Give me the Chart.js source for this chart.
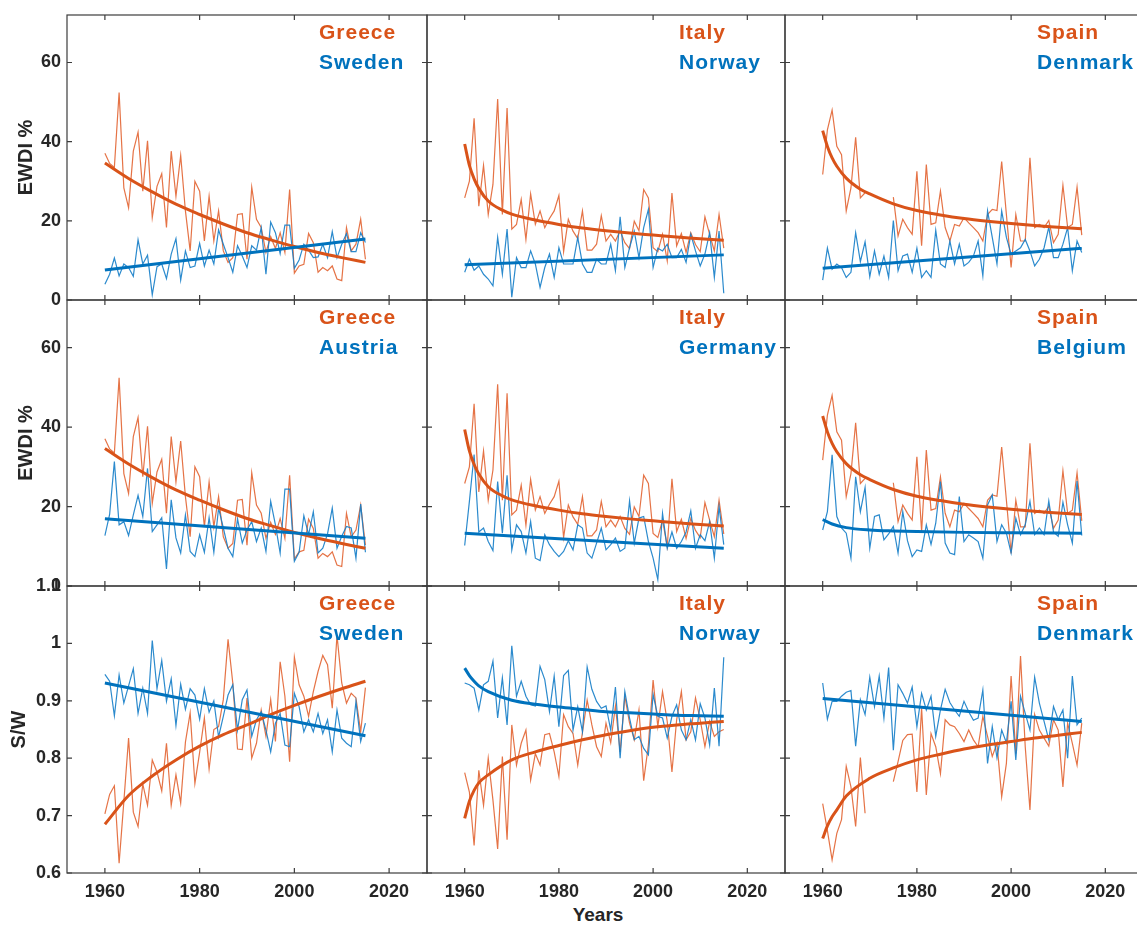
<!DOCTYPE html>
<html>
<head>
<meta charset="utf-8">
<title>EWDI and S/W trends</title>
<script src="https://cdn.jsdelivr.net/npm/chart.js@4.4.1/dist/chart.umd.min.js"></script>
<style>
  html, body { margin: 0; padding: 0; background: #fff; }
  body { width: 1137px; height: 925px; overflow: hidden; position: relative;
         font-family: "Liberation Sans", Arial, sans-serif; }
  .panel { position: absolute; }
  .tag { position: absolute; font-weight: bold; font-size: 21px; letter-spacing: 1px;
         line-height: 24px; white-space: nowrap; }
  .xlabel { position: absolute; font-weight: bold; font-size: 19px; line-height: 24px;
            color: #262626; transform: translateX(-50%); }
</style>
</head>
<body>
<div class="xlabel" style="left:598px;top:903px">Years</div>
<script>
// ---- axis ticks ----
const YEAR_TICKS = [1960, 1980, 2000, 2020];
const EWDI_TICKS = [0, 20, 40, 60];
const SW_TICKS = [0.6, 0.7, 0.8, 0.9, 1, 1.1];

// yearly series run 1960..2015
const YEARS = Array.from({ length: 56 }, (_, i) => 1960 + i);

// ---- EWDI % (yearly) ----
const GREECE_EWDI = [37.1, 34.5, 33.5, 52.4, 28.3, 23.3, 37.6, 42.4, 27.5, 40.2,
  20.8, 28.7, 31.9, 18.3, 37.6, 26.2, 36.5, 22.5, 12.4, 30.0,
  27.5, 14.9, 26.2, 14.9, 22.5, 12.4, 9.5, 10.7, 21.6, 21.8,
  10.3, 28.5, 20.4, 18.3, 12.0, 16.0, 13.0, 17.0, 12.0, 27.9,
  6.8, 8.6, 9.0, 16.8, 14.5, 7.0, 8.2, 7.4, 8.6, 5.3,
  4.9, 18.3, 12.4, 14.1, 20.4, 10.3];
const SWEDEN_EWDI = [4.0, 6.5, 10.6, 6.1, 9.1, 8.2, 6.0, 15.2, 9.1, 11.3,
  1.3, 8.4, 9.1, 5.4, 11.6, 15.5, 5.0, 12.4, 8.2, 8.6,
  14.3, 8.6, 12.6, 9.1, 17.7, 14.1, 10.7, 7.0, 13.7, 11.1,
  8.2, 13.7, 12.6, 18.3, 6.5, 19.7, 17.0, 11.7, 18.9, 18.9,
  8.0, 10.1, 14.1, 12.6, 10.7, 10.9, 14.1, 10.7, 17.3, 10.7,
  14.1, 16.8, 12.2, 12.2, 17.0, 14.5];
const ITALY_EWDI = [25.8, 30.0, 45.9, 23.7, 34.0, 21.6, 29.2, 50.8, 21.6, 48.5,
  17.9, 19.1, 25.4, 15.3, 26.8, 19.1, 22.5, 18.3, 20.6, 22.5,
  26.4, 12.2, 20.4, 17.4, 15.5, 22.5, 12.6, 12.6, 14.1, 21.3,
  14.9, 16.6, 14.9, 17.5, 14.5, 13.0, 19.9, 17.5, 27.9, 25.8,
  13.2, 12.2, 16.6, 9.9, 27.0, 13.7, 16.8, 12.0, 17.0, 14.0,
  12.2, 21.0, 16.6, 12.4, 21.6, 13.1];
const NORWAY_EWDI = [7.0, 10.3, 7.5, 8.6, 6.5, 5.3, 3.6, 15.8, 6.5, 17.9,
  0.7, 10.7, 8.2, 8.2, 12.4, 9.1, 3.2, 8.2, 11.6, 5.7,
  13.2, 9.1, 9.1, 9.1, 15.8, 9.1, 7.0, 7.0, 10.3, 9.1,
  9.1, 14.1, 7.4, 21.0, 8.2, 13.2, 17.4, 10.7, 18.3, 22.9,
  8.2, 13.1, 12.4, 14.1, 10.7, 10.7, 12.8, 9.5, 16.6, 12.4,
  8.6, 11.6, 17.0, 5.7, 17.4, 1.7];
const SPAIN_EWDI = [31.7, 43.0, 48.0, 38.8, 36.7, 22.5, 28.3, 41.1, 25.8, 27.1,
  null, null, null, null, null, 26.0, 16.2, 20.4, 18.3, 16.6,
  32.5, 13.7, 34.2, 19.1, 19.5, 27.5, 18.3, 14.9, 19.1, 18.7,
  20.8, 19.5, 18.3, 17.0, 14.9, 21.6, 22.9, 22.6, 35.0, 21.6,
  8.2, 21.6, 14.9, 14.9, 35.9, 18.3, 19.1, 18.3, 20.1, 14.5,
  16.6, 29.0, 18.3, 19.1, 28.5, 16.4];
const DENMARK_EWDI = [5.0, 13.1, 7.8, 9.1, 8.2, 5.7, 7.0, 17.0, 9.7, 14.7,
  5.9, 12.4, 6.5, 11.1, 5.7, 20.1, 7.4, 11.1, 11.6, 7.0,
  13.1, 5.7, 7.4, 5.7, 17.6, 9.1, 8.2, 14.9, 9.1, 14.1,
  8.6, 9.5, 11.1, 14.9, 6.1, 22.5, 15.8, 9.1, 22.5, 15.8,
  11.6, 12.4, 13.2, 15.3, 12.4, 8.6, 10.3, 13.2, 18.4, 10.7,
  10.7, 14.1, 18.3, 7.4, 14.9, 12.0];
const AUSTRIA_EWDI = [12.7, 18.0, 31.3, 15.4, 16.2, 12.7, 17.9, 22.8, 17.5, 29.6,
  13.7, 15.4, 17.2, 4.3, 21.7, 12.1, 8.3, 17.9, 8.7, 7.4,
  12.9, 8.5, 17.2, 8.5, 19.6, 14.6, 9.5, 7.4, 16.9, 10.8,
  14.1, 16.2, 11.2, 14.6, 8.7, 21.3, 15.4, 8.3, 24.4, 24.4,
  6.2, 8.5, 17.7, 12.9, 18.7, 8.3, 9.5, 13.1, 19.6, 9.5,
  12.5, 15.0, 14.6, 7.0, 20.6, 8.5];
const GERMANY_EWDI = [10.2, 21.3, 33.1, 13.6, 14.6, 11.2, 8.9, 26.3, 13.3, 27.9,
  9.1, 15.4, 13.7, 8.3, 16.2, 7.0, 6.4, 12.9, 10.4, 8.7,
  7.4, 8.7, 11.4, 9.1, 15.4, 14.6, 8.3, 7.0, 10.8, 14.6,
  9.1, 10.4, 12.1, 8.7, 9.5, 21.4, 10.8, 17.1, 17.5, 11.2,
  7.0, 1.6, 18.3, 9.5, 13.6, 9.5, 11.2, 13.6, 18.9, 9.5,
  12.9, 11.4, 16.2, 7.0, 20.0, 10.4];
const BELGIUM_EWDI = [14.1, 18.7, 33.0, 17.5, 14.6, 13.3, 7.0, 27.5, 18.7, 24.8,
  9.5, 17.5, 17.9, 11.6, 13.1, 15.0, 8.3, 18.7, 11.4, 7.4,
  9.1, 8.7, 15.4, 10.5, 15.8, 26.3, 10.8, 8.3, 7.9, 22.5,
  11.2, 12.9, 12.1, 11.2, 7.0, 20.4, 22.9, 11.2, 15.4, 13.3,
  8.3, 17.1, 12.9, 15.4, 21.3, 12.9, 14.6, 12.9, 21.4, 13.6,
  12.5, 21.1, 15.4, 10.8, 26.4, 12.7];

// ---- S/W (yearly) ----
const GREECE_SW = [0.703, 0.737, 0.752, 0.617, 0.724, 0.835, 0.706, 0.681, 0.755, 0.718,
  0.797, 0.776, 0.743, 0.826, 0.718, 0.771, 0.722, 0.828, 0.879, 0.756,
  0.810, 0.870, 0.781, 0.850, 0.855, 0.902, 1.007, 0.931, 0.816, 0.815,
  0.905, 0.800, 0.826, 0.884, 0.838, 0.902, 0.829, 0.968, 0.908, 0.794,
  0.976, 0.928, 0.908, 0.873, 0.916, 0.951, 0.979, 0.963, 0.887, 1.014,
  0.931, 0.896, 0.913, 0.905, 0.846, 0.923];
const SWEDEN_SW = [0.946, 0.934, 0.874, 0.945, 0.896, 0.926, 0.956, 0.878, 0.922, 0.878,
  1.005, 0.921, 0.970, 0.899, 0.938, 0.857, 0.929, 0.885, 0.921, 0.910,
  0.868, 0.921, 0.880, 0.900, 0.837, 0.873, 0.910, 0.928, 0.849, 0.902,
  0.919, 0.838, 0.867, 0.881, 0.849, 0.811, 0.861, 0.878, 0.823, 0.820,
  0.913, 0.890, 0.846, 0.867, 0.846, 0.878, 0.843, 0.867, 0.811, 0.884,
  0.835, 0.826, 0.820, 0.899, 0.829, 0.861];
const ITALY_SW = [0.775, 0.741, 0.648, 0.779, 0.718, 0.800, 0.727, 0.642, 0.803, 0.658,
  0.858, 0.788, 0.826, 0.849, 0.762, 0.808, 0.788, 0.841, 0.843, 0.811,
  0.768, 0.876, 0.855, 0.843, 0.788, 0.845, 0.901, 0.858, 0.820, 0.803,
  0.861, 0.827, 0.891, 0.811, 0.908, 0.861, 0.832, 0.884, 0.761, 0.823,
  0.936, 0.855, 0.916, 0.864, 0.776, 0.867, 0.916, 0.832, 0.846, 0.905,
  0.867, 0.820, 0.864, 0.838, 0.846, 0.850];
const NORWAY_SW = [0.931, 0.928, 0.922, 0.884, 0.928, 0.934, 0.969, 0.870, 0.940, 0.858,
  0.996, 0.908, 0.934, 0.908, 0.893, 0.891, 0.960, 0.937, 0.881, 0.943,
  0.855, 0.944, 0.953, 0.849, 0.890, 0.846, 0.959, 0.920, 0.899, 0.887,
  0.891, 0.849, 0.924, 0.800, 0.916, 0.870, 0.832, 0.838, 0.817, 0.806,
  0.911, 0.873, 0.870, 0.835, 0.873, 0.893, 0.849, 0.832, 0.867, 0.832,
  0.895, 0.870, 0.823, 0.922, 0.821, 0.976];
const SPAIN_SW = [0.721, 0.674, 0.623, 0.669, 0.693, 0.786, 0.750, 0.681, 0.801, 0.704,
  null, null, null, null, null, 0.759, 0.794, 0.831, 0.841, 0.842,
  0.741, 0.887, 0.736, 0.843, 0.820, 0.773, 0.867, 0.858, 0.855, 0.843,
  0.829, 0.849, 0.832, 0.820, 0.873, 0.838, 0.803, 0.826, 0.733, 0.791,
  0.943, 0.808, 0.978, 0.820, 0.710, 0.876, 0.849, 0.835, 0.821, 0.867,
  0.849, 0.750, 0.861, 0.826, 0.788, 0.861];
const DENMARK_SW = [0.931, 0.868, 0.899, 0.899, 0.908, 0.915, 0.918, 0.821, 0.902, 0.876,
  0.941, 0.890, 0.943, 0.870, 0.958, 0.814, 0.928, 0.913, 0.896, 0.924,
  0.855, 0.913, 0.884, 0.908, 0.838, 0.884, 0.920, 0.897, 0.884, 0.873,
  0.899, 0.881, 0.866, 0.870, 0.919, 0.791, 0.855, 0.801, 0.849, 0.827,
  0.899, 0.797, 0.908, 0.878, 0.849, 0.941, 0.896, 0.864, 0.832, 0.890,
  0.867, 0.884, 0.800, 0.943, 0.858, 0.870];

// ---- fitted trend lines, [year, value] ----
const GREECE_EWDI_FIT = [[1960, 34.6], [1965, 30.7], [1970, 27.3], [1975, 24.2], [1980, 21.6], [1985, 19.2],
  [1990, 17.0], [1995, 15.2], [2000, 13.5], [2005, 12.0], [2010, 10.7], [2015, 9.5]];
const SWEDEN_EWDI_FIT = [[1960, 7.6], [2015, 15.4]];
const ITALY_EWDI_FIT = [[1960, 39.4], [1961, 34.0], [1962, 30.6], [1963, 28.2], [1965, 25.0], [1968, 22.7],
  [1970, 21.7], [1975, 20.2], [1980, 19.1], [1985, 18.2], [1990, 17.5], [1995, 16.9], [2000, 16.4],
  [2005, 15.9], [2010, 15.5], [2015, 15.1]];
const NORWAY_EWDI_FIT = [[1960, 8.9], [2015, 11.4]];
const SPAIN_EWDI_FIT = [[1960, 42.8], [1961, 38.8], [1962, 35.9], [1963, 33.8], [1965, 30.8], [1968, 28.0],
  [1970, 26.8], [1975, 24.3], [1980, 22.6], [1985, 21.5], [1990, 20.6], [1995, 19.9], [2000, 19.3],
  [2005, 18.8], [2010, 18.4], [2015, 18.0]];
const DENMARK_EWDI_FIT = [[1960, 8.0], [2015, 13.1]];
const AUSTRIA_EWDI_FIT = [[1960, 16.9], [2015, 12.0]];
const GERMANY_EWDI_FIT = [[1960, 13.3], [2015, 9.5]];
const BELGIUM_EWDI_FIT = [[1960, 16.7], [1962, 15.6], [1965, 14.7], [1970, 14.1], [1975, 13.85], [1980, 13.7],
  [1990, 13.5], [2000, 13.4], [2015, 13.3]];

const GREECE_SW_FIT = [[1960, 0.685], [1965, 0.735], [1970, 0.769], [1975, 0.797], [1980, 0.821], [1985, 0.841],
  [1990, 0.858], [1995, 0.876], [2000, 0.892], [2005, 0.907], [2010, 0.921], [2015, 0.934]];
const SWEDEN_SW_FIT = [[1960, 0.931], [2015, 0.839]];
const ITALY_SW_FIT = [[1960, 0.695], [1961, 0.725], [1962, 0.744], [1963, 0.757], [1965, 0.771], [1970, 0.797],
  [1975, 0.811], [1980, 0.822], [1985, 0.832], [1990, 0.841], [1995, 0.848], [2000, 0.854], [2005, 0.858],
  [2010, 0.861], [2015, 0.864]];
const NORWAY_SW_FIT = [[1960, 0.957], [1961, 0.944], [1962, 0.934], [1963, 0.926], [1965, 0.916], [1970, 0.901],
  [1975, 0.894], [1980, 0.889], [1985, 0.885], [1990, 0.881], [1995, 0.879], [2000, 0.877], [2005, 0.875],
  [2010, 0.874], [2015, 0.873]];
const SPAIN_SW_FIT = [[1960, 0.660], [1961, 0.682], [1962, 0.698], [1963, 0.710], [1965, 0.734], [1970, 0.765],
  [1975, 0.783], [1980, 0.797], [1985, 0.807], [1990, 0.816], [1995, 0.823], [2000, 0.829], [2005, 0.835],
  [2010, 0.840], [2015, 0.845]];
const DENMARK_SW_FIT = [[1960, 0.904], [2015, 0.864]];

// ---- panel grid: rows x cols ----
const PANELS = [
  [
    { red: 'Greece', blue: 'Sweden', r: GREECE_EWDI, b: SWEDEN_EWDI, rf: GREECE_EWDI_FIT, bf: SWEDEN_EWDI_FIT },
    { red: 'Italy', blue: 'Norway', r: ITALY_EWDI, b: NORWAY_EWDI, rf: ITALY_EWDI_FIT, bf: NORWAY_EWDI_FIT },
    { red: 'Spain', blue: 'Denmark', r: SPAIN_EWDI, b: DENMARK_EWDI, rf: SPAIN_EWDI_FIT, bf: DENMARK_EWDI_FIT }
  ],
  [
    { red: 'Greece', blue: 'Austria', r: GREECE_EWDI, b: AUSTRIA_EWDI, rf: GREECE_EWDI_FIT, bf: AUSTRIA_EWDI_FIT },
    { red: 'Italy', blue: 'Germany', r: ITALY_EWDI, b: GERMANY_EWDI, rf: ITALY_EWDI_FIT, bf: GERMANY_EWDI_FIT },
    { red: 'Spain', blue: 'Belgium', r: SPAIN_EWDI, b: BELGIUM_EWDI, rf: SPAIN_EWDI_FIT, bf: BELGIUM_EWDI_FIT }
  ],
  [
    { red: 'Greece', blue: 'Sweden', r: GREECE_SW, b: SWEDEN_SW, rf: GREECE_SW_FIT, bf: SWEDEN_SW_FIT },
    { red: 'Italy', blue: 'Norway', r: ITALY_SW, b: NORWAY_SW, rf: ITALY_SW_FIT, bf: NORWAY_SW_FIT },
    { red: 'Spain', blue: 'Denmark', r: SPAIN_SW, b: DENMARK_SW, rf: SPAIN_SW_FIT, bf: DENMARK_SW_FIT }
  ]
];
const ROW_AXES = [
  { title: 'EWDI %', min: 0, max: 72, ticks: EWDI_TICKS, titlePad: 14 },
  { title: 'EWDI %', min: 0, max: 72, ticks: EWDI_TICKS, titlePad: 14 },
  { title: 'S/W', min: 0.6, max: 1.1, ticks: SW_TICKS, titlePad: 7 }
];

// layout of the axes boxes (px)
const COL_LEFT = [67, 427, 785];
const COL_W = [360, 358, 358];
const ROW_TOP = [15, 300, 586];
const ROW_H = [285, 286, 287];

const ORANGE = 'rgb(217,83,25)';
const BLUE = 'rgb(0,114,189)';
const ORANGE_THIN = 'rgba(226,100,50,0.9)';
const BLUE_THIN = 'rgba(20,125,200,0.9)';
const INK = '#262626';
const FONT = '"Liberation Sans", Arial, sans-serif';

// box + inward ticks on all four sides (MATLAB style)
const framePlugin = {
  id: 'frame',
  afterDraw(chart) {
    const { ctx, chartArea: a, scales: { x, y } } = chart;
    ctx.save();
    ctx.strokeStyle = '#3c3c3c';
    ctx.lineWidth = 1.2;
    ctx.strokeRect(a.left, a.top, a.right - a.left, a.bottom - a.top);
    ctx.beginPath();
    x.ticks.forEach(function (t) {
      const p = x.getPixelForValue(t.value);
      ctx.moveTo(p, a.bottom); ctx.lineTo(p, a.bottom - 5);
      ctx.moveTo(p, a.top); ctx.lineTo(p, a.top + 5);
    });
    y.ticks.forEach(function (t) {
      const p = y.getPixelForValue(t.value);
      ctx.moveTo(a.left, p); ctx.lineTo(a.left + 5, p);
      ctx.moveTo(a.right, p); ctx.lineTo(a.right - 5, p);
    });
    ctx.stroke();
    ctx.restore();
  }
};

function yearly(values) {
  return YEARS.map(function (yr, i) { return { x: yr, y: values[i] }; });
}
function fit(pairs) {
  return pairs.map(function (p) { return { x: p[0], y: p[1] }; });
}

function makePanel(row, col) {
  const cfg = PANELS[row][col];
  const ax = ROW_AXES[row];
  const padL = col === 0 ? 67 : 4;
  const padT = 14;
  const padR = 4;
  const padB = row === 2 ? 50 : 14;

  const box = document.createElement('div');
  box.className = 'panel';
  box.style.left = (COL_LEFT[col] - padL) + 'px';
  box.style.top = (ROW_TOP[row] - padT) + 'px';
  box.style.width = (COL_W[col] + padL + padR) + 'px';
  box.style.height = (ROW_H[row] + padT + padB) + 'px';
  const canvas = document.createElement('canvas');
  box.appendChild(canvas);
  document.body.appendChild(box);

  // legend-like country names
  const tags = [[cfg.red, ORANGE, 16.5], [cfg.blue, BLUE, 47]];
  tags.forEach(function (t) {
    const d = document.createElement('div');
    d.className = 'tag';
    d.textContent = t[0];
    d.style.color = t[1];
    d.style.left = (COL_LEFT[col] + 252) + 'px';
    d.style.top = (ROW_TOP[row] + t[2] - 12) + 'px';
    document.body.appendChild(d);
  });

  const tickFont = { family: FONT, size: 18, weight: 'bold' };

  new Chart(canvas.getContext('2d'), {
    type: 'line',
    data: {
      datasets: [
        { data: fit(cfg.bf), borderColor: BLUE, borderWidth: 3, pointRadius: 0, cubicInterpolationMode: 'monotone' },
        { data: fit(cfg.rf), borderColor: ORANGE, borderWidth: 3, pointRadius: 0, cubicInterpolationMode: 'monotone' },
        { data: yearly(cfg.b), borderColor: BLUE_THIN, borderWidth: 1.2, pointRadius: 0, tension: 0 },
        { data: yearly(cfg.r), borderColor: ORANGE_THIN, borderWidth: 1.2, pointRadius: 0, tension: 0 }
      ]
    },
    options: {
      animation: false,
      responsive: true,
      maintainAspectRatio: false,
      events: [],
      layout: { padding: { top: padT, right: padR, left: 0, bottom: 0 } },
      plugins: { legend: { display: false }, tooltip: { enabled: false } },
      scales: {
        x: {
          type: 'linear',
          min: 1952,
          max: 2028,
          afterBuildTicks: function (s) { s.ticks = YEAR_TICKS.map(function (v) { return { value: v }; }); },
          afterFit: function (s) { s.height = padB; s.paddingLeft = 0; s.paddingRight = 0; },
          grid: { display: false, drawTicks: false },
          border: { display: false },
          ticks: {
            display: row === 2,
            autoSkip: false,
            maxRotation: 0,
            padding: 8,
            color: INK,
            font: tickFont,
            callback: function (v) { return String(v); }
          }
        },
        y: {
          type: 'linear',
          min: ax.min,
          max: ax.max,
          afterBuildTicks: function (s) { s.ticks = ax.ticks.map(function (v) { return { value: v }; }); },
          afterFit: function (s) { s.width = padL; s.paddingTop = 0; s.paddingBottom = 0; },
          grid: { display: false, drawTicks: false },
          border: { display: false },
          ticks: {
            display: col === 0,
            autoSkip: false,
            padding: 6,
            color: INK,
            font: tickFont,
            callback: function (v) { return String(Math.round(v * 10) / 10); }
          },
          title: {
            display: col === 0,
            text: ax.title,
            color: INK,
            font: { family: FONT, size: 20, weight: 'bold' },
            padding: { top: ax.titlePad, bottom: 0 }
          }
        }
      }
    },
    plugins: [framePlugin]
  });
}

for (let r = 0; r < 3; r++) {
  for (let c = 0; c < 3; c++) makePanel(r, c);
}
</script>
</body>
</html>
